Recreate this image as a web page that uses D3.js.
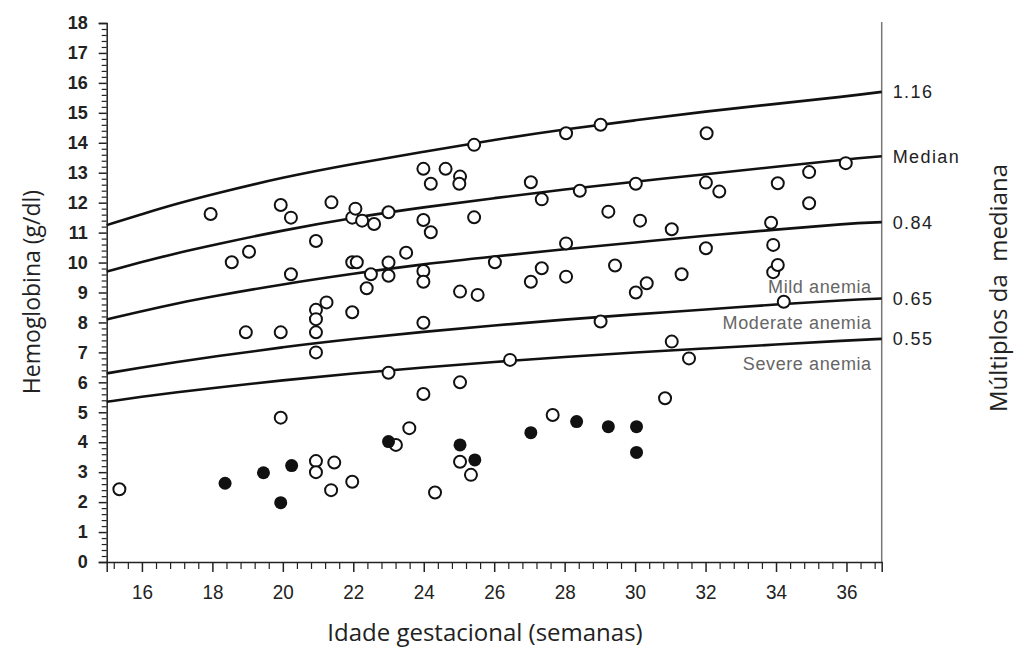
<!DOCTYPE html>
<html>
<head>
<meta charset="utf-8">
<script src="https://cdn.jsdelivr.net/npm/d3@7"></script>
<style>
  body { margin: 0; background: #fff; }
  svg { display: block; }
</style>
</head>
<body>
<div id="chart"></div>
<script>
// semanas onde as curvas foram lidas
const curveWeeks = [15, 16, 17, 18, 20, 22, 24, 26, 28, 30, 32, 34, 36, 37];
const curve116   = [11.25, 11.62, 11.97, 12.28, 12.85, 13.3, 13.7, 14.1, 14.45, 14.75, 15.05, 15.3, 15.55, 15.7];
const curveMed   = [9.7, 10.02, 10.32, 10.58, 11.08, 11.5, 11.85, 12.15, 12.45, 12.7, 12.95, 13.2, 13.45, 13.55];
const curve084   = [8.1, 8.38, 8.64, 8.87, 9.28, 9.63, 9.95, 10.2, 10.45, 10.67, 10.9, 11.1, 11.3, 11.35];
const curve065   = [6.3, 6.5, 6.68, 6.85, 7.18, 7.45, 7.69, 7.9, 8.1, 8.27, 8.43, 8.6, 8.75, 8.8];
const curve055   = [5.35, 5.52, 5.67, 5.81, 6.07, 6.3, 6.5, 6.68, 6.85, 7.0, 7.13, 7.26, 7.4, 7.45];
const curveLabels = ["1.16", "Median", "0.84", "0.65", "0.55"];
const zoneLabels  = ["Mild anemia", "Moderate anemia", "Severe anemia"];

// [semanas, Hb] - círculos abertos
const openPoints = [
  [15.36, 2.43], [17.95, 11.62], [18.55, 10.01], [18.95, 7.67], [19.04, 10.36],
  [19.94, 11.92], [19.94, 7.67], [19.94, 4.82], [20.23, 11.5], [20.23, 9.61],
  [20.94, 10.72], [20.94, 8.42], [20.94, 8.11], [20.94, 7.67], [20.94, 7.0],
  [20.94, 3.37], [20.94, 3.0], [21.24, 8.67], [21.38, 12.01], [21.37, 2.4],
  [21.46, 3.32], [21.97, 11.5], [21.97, 10.01], [21.97, 8.34], [21.97, 2.68],
  [22.06, 11.8], [22.1, 10.01], [22.25, 11.4], [22.38, 9.14], [22.5, 9.61],
  [22.59, 11.29], [23.0, 11.68], [23.0, 10.0], [23.0, 9.56], [23.0, 6.32],
  [23.21, 3.91], [23.5, 10.33], [23.59, 4.47], [23.99, 13.13], [23.99, 11.42],
  [23.99, 9.72], [23.99, 9.36], [23.99, 7.99], [23.99, 5.61], [24.2, 12.63],
  [24.2, 11.01], [24.32, 2.32], [24.62, 13.13], [25.03, 12.87], [25.01, 12.63],
  [25.03, 9.03], [25.03, 6.0], [25.03, 3.35], [25.34, 2.91], [25.43, 13.93],
  [25.43, 11.51], [25.53, 8.92], [26.02, 10.01], [26.45, 6.75], [27.04, 12.68],
  [27.04, 9.36], [27.35, 12.11], [27.35, 9.81], [27.66, 4.91], [28.04, 14.32],
  [28.04, 10.64], [28.04, 9.53], [28.43, 12.4], [29.02, 14.6], [29.02, 8.03],
  [29.24, 11.7], [29.43, 9.9], [30.02, 12.63], [30.02, 9.0], [30.14, 11.4],
  [30.33, 9.31], [30.85, 5.47], [31.04, 11.11], [31.04, 7.36], [31.32, 9.61],
  [31.53, 6.8], [32.03, 14.32], [32.01, 12.67], [32.01, 10.48], [32.39, 12.37],
  [33.86, 11.33], [33.92, 10.59], [33.92, 9.68], [34.05, 12.65], [34.05, 9.92],
  [34.22, 8.69], [34.94, 13.02], [34.94, 11.98], [35.98, 13.32]
];
// círculos cheios
const filledPoints = [
  [18.36, 2.63], [19.45, 2.98], [19.94, 1.98], [20.25, 3.22], [23.0, 4.02],
  [25.03, 3.91], [25.45, 3.41], [27.04, 4.32], [28.34, 4.69], [29.24, 4.52],
  [30.04, 4.52], [30.04, 3.66]
];

const width = 1022, height = 649;
const svg = d3.select("#chart").append("svg")
  .attr("width", width)
  .attr("height", height);

const x = d3.scaleLinear().domain([15, 37]).range([106.7, 881.7]);
const y = d3.scaleLinear().domain([0, 18]).range([562, 23]);

// eixo direito (cinza)
svg.append("line")
  .attr("x1", x(37)).attr("x2", x(37))
  .attr("y1", y(18) - 1).attr("y2", y(0))
  .attr("stroke", "#777").attr("stroke-width", 1.5);

// eixo Y esquerdo
const yMinor = d3.range(0, 18.001, 0.2).filter(v => Math.abs(v - Math.round(v)) > 0.01);
svg.append("g")
  .attr("transform", `translate(${x(15)},0)`)
  .call(d3.axisLeft(y).tickValues(yMinor).tickSize(5).tickFormat(""))
  .call(g => g.select(".domain").remove())
  .selectAll("line").attr("stroke", "#222").attr("stroke-width", 1.2);

const yAxis = svg.append("g")
  .attr("transform", `translate(${x(15)},0)`)
  .call(d3.axisLeft(y).tickValues(d3.range(0, 19)).tickSize(8).tickPadding(11));
yAxis.select(".domain").attr("stroke", "#222").attr("stroke-width", 1.5);
yAxis.selectAll("line").attr("stroke", "#222").attr("stroke-width", 1.5);
yAxis.selectAll("text")
  .attr("font-family", "Liberation Sans, Arial, sans-serif")
  .attr("font-size", 18)
  .attr("font-weight", "bold")
  .attr("fill", "#222");

// eixo X
const xMinor = d3.range(15.2, 36.9, 0.4).filter(v => Math.abs(v / 2 - Math.round(v / 2)) > 0.01);
svg.append("g")
  .attr("transform", `translate(0,${y(0)})`)
  .call(d3.axisBottom(x).tickValues(xMinor).tickSize(7).tickFormat(""))
  .call(g => g.select(".domain").remove())
  .selectAll("line").attr("stroke", "#222").attr("stroke-width", 1.2);

const xAxis = svg.append("g")
  .attr("transform", `translate(0,${y(0)})`)
  .call(d3.axisBottom(x).tickValues(d3.range(16, 37, 2)).tickSize(10).tickPadding(13));
xAxis.select(".domain").attr("stroke", "#222").attr("stroke-width", 1.5);
xAxis.selectAll("line").attr("stroke", "#222").attr("stroke-width", 1.5);
// rótulos estreitos, como no original
xAxis.selectAll("text")
  .attr("font-family", "Liberation Sans, Arial, sans-serif")
  .attr("font-size", 20)
  .attr("textLength", 21)
  .attr("lengthAdjust", "spacingAndGlyphs")
  .attr("fill", "#222");

// curvas de múltiplos da mediana
const curves = [curve116, curveMed, curve084, curve065, curve055];
const line = d3.line()
  .x((d, i) => x(curveWeeks[i]))
  .y(d => y(d))
  .curve(d3.curveBasis);

svg.append("g")
  .selectAll("path")
  .data(curves)
  .join("path")
  .attr("fill", "none")
  .attr("stroke", "#111")
  .attr("stroke-width", 2.6)
  .attr("d", line);

// rótulos à direita
svg.append("g")
  .selectAll("text")
  .data(curves)
  .join("text")
  .attr("x", x(37) + 11)
  .attr("y", d => y(d[d.length - 1]))
  .attr("dy", "0.36em")
  .attr("font-family", "Liberation Sans, Arial, sans-serif")
  .attr("font-size", 18)
  .attr("letter-spacing", 1.4)
  .attr("fill", "#222")
  .text((d, i) => curveLabels[i]);

// rótulos das zonas de anemia
const zoneY = [
  y(curve065[curve065.length - 1]) - 5,
  y(curve055[curve055.length - 1]) - 10,
  y(curve055[curve055.length - 1]) + 31
];
svg.append("g")
  .selectAll("text")
  .data(zoneLabels)
  .join("text")
  .attr("x", x(37) - 10)
  .attr("y", (d, i) => zoneY[i])
  .attr("text-anchor", "end")
  .attr("font-family", "Liberation Sans, Arial, sans-serif")
  .attr("font-size", 18)
  .attr("letter-spacing", 0.6)
  .attr("fill", "#666")
  .text(d => d);

// pontos
svg.append("g")
  .selectAll("circle")
  .data(openPoints)
  .join("circle")
  .attr("cx", d => x(d[0]))
  .attr("cy", d => y(d[1]))
  .attr("r", 6)
  .attr("fill", "#fff")
  .attr("stroke", "#111")
  .attr("stroke-width", 2);

svg.append("g")
  .selectAll("circle")
  .data(filledPoints)
  .join("circle")
  .attr("cx", d => x(d[0]))
  .attr("cy", d => y(d[1]))
  .attr("r", 6.5)
  .attr("fill", "#111");

// títulos dos eixos
const titleFont = "Open Sans, Noto Sans, sans-serif";
svg.append("text")
  .attr("transform", `translate(40,292) rotate(-90)`)
  .attr("text-anchor", "middle")
  .attr("font-family", titleFont)
  .attr("font-size", 23)
  .attr("fill", "#222")
  .text("Hemoglobina (g/dl)");

svg.append("text")
  .attr("x", 485)
  .attr("y", 641)
  .attr("text-anchor", "middle")
  .attr("font-family", titleFont)
  .attr("font-size", 24)
  .attr("fill", "#222")
  .text("Idade gestacional (semanas)");

svg.append("text")
  .attr("transform", `translate(1007,288) rotate(-90)`)
  .attr("text-anchor", "middle")
  .attr("font-family", titleFont)
  .attr("font-size", 24)
  .attr("fill", "#222")
  .style("white-space", "pre")
  .text("Múltiplos da  mediana");
</script>
</body>
</html>
